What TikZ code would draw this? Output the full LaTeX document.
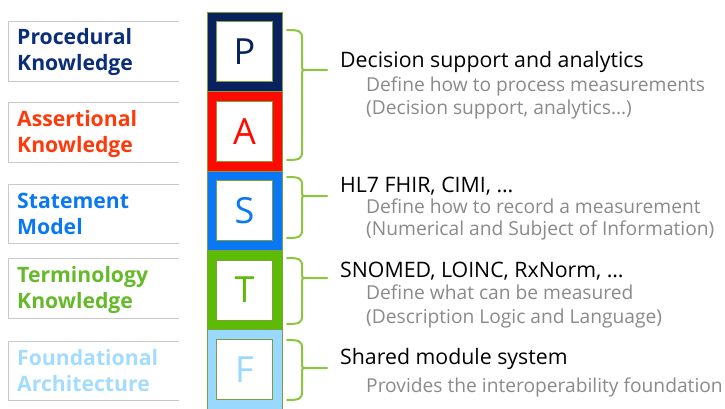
\documentclass[tikz,border=0pt]{standalone}
\usepackage{fontspec}
\setmainfont{Open Sans}
\definecolor{pNavy}{HTML}{0A2160}
\definecolor{pNavyTxt}{HTML}{0B2E78}
\definecolor{aRed}{HTML}{FF0A00}
\definecolor{aRedTxt}{HTML}{FF3A0A}
\definecolor{sBlue}{HTML}{0A78F5}
\definecolor{tGreen}{HTML}{5CBB05}
\definecolor{tGreenTxt}{HTML}{66B92A}
\definecolor{fLight}{HTML}{99D8FF}
\definecolor{fLightTxt}{HTML}{A3DCFF}
\definecolor{braceGreen}{HTML}{8CC63F}
\definecolor{edgeOlive}{HTML}{7E9E3C}
\definecolor{boxGray}{HTML}{C9C9C9}
\definecolor{subGray}{HTML}{8A8A8A}
\begin{document}
\begin{tikzpicture}[x=1pt,y=-1pt,
  layer/.style={draw=edgeOlive,line width=0.6pt,minimum width=75pt,minimum height=79.4pt,inner sep=0pt,outer sep=0pt},
  letterbox/.style={draw=edgeOlive,line width=0.7pt,fill=white,minimum width=56pt,minimum height=60pt,inner sep=0pt,font=\fontsize{36}{36}\selectfont},
  lbl/.style={anchor=base west,inner sep=0pt,font=\fontsize{21.2}{24}\selectfont\bfseries},
  head/.style={anchor=base west,inner sep=0pt,font=\fontsize{21.3}{24}\selectfont,text=black},
  sub/.style={anchor=base west,inner sep=0pt,font=\fontsize{19.2}{22}\selectfont,text=subGray},
  brc/.style={draw=braceGreen,line width=2pt,line cap=round,line join=round},
  lblframe/.style={draw=boxGray,line width=0.9pt}]
\useasboundingbox (0,0) rectangle (725,409);

% coloured layer column
\node[layer,fill=pNavy]  (Pblk) at (244.5,51.7)  {};
\node[layer,fill=aRed]   (Ablk) at (244.5,131.1) {};
\node[layer,fill=sBlue]  (Sblk) at (244.5,210.5) {};
\node[layer,fill=tGreen] (Tblk) at (244.5,289.9) {};
\node[layer,fill=fLight] (Fblk) at (244.5,369.3) {};

% letter squares
\node[letterbox,text=pNavy]  (Pbox) at (Pblk) {P};
\node[letterbox,text=aRed]   (Abox) at (Ablk) {A};
\node[letterbox,text=sBlue]  (Sbox) at (Sblk) {S};
\node[letterbox,text=tGreen] (Tbox) at (Tblk) {T};
\node[letterbox,text=fLight] (Fbox) at (Fblk) {F};

% label frames (open on the right)
\foreach \t/\b in {21/81,102/162,184/243,258/318,341/400}{
  \draw[lblframe] (179,\t) -- (8,\t) -- (8,\b) -- (179,\b);
}

% layer names
\node[lbl,text=pNavyTxt]  (pl1) at (17,45)  {Procedural};
\node[lbl,text=pNavyTxt]  (pl2) at (17,71)  {Knowledge};
\node[lbl,text=aRedTxt]   (al1) at (17,127) {Assertional};
\node[lbl,text=aRedTxt]   (al2) at (17,152) {Knowledge};
\node[lbl,text=sBlue]     (sl1) at (17,208) {Statement};
\node[lbl,text=sBlue]     (sl2) at (17,234) {Model};
\node[lbl,text=tGreenTxt] (tl1) at (17,282) {Terminology};
\node[lbl,text=tGreenTxt] (tl2) at (17,308) {Knowledge};
\node[lbl,text=fLightTxt] (fl1) at (17,365) {Foundational};
\node[lbl,text=fLightTxt] (fl2) at (17,391) {Architecture};

% curly braces: top, tip, bottom
\foreach \yt/\ym/\yb in {30/70/160,177/196/238,258/278/324,340/368/400}{
  \draw[brc] (287,\yt) .. controls (299,\yt) and (302,\yt+1) .. (302,\yt+8)
    -- (302,\ym-5) .. controls (302,\ym) .. (307,\ym) -- (327,\ym);
  \draw[brc] (307,\ym) .. controls (302,\ym) .. (302,\ym+5)
    -- (302,\yb-8) .. controls (302,\yb-1) and (299,\yb) .. (287,\yb);
}

% descriptions
\node[head] (ph) at (340,68)  {Decision support and analytics};
\node[sub]  (ps1) at (366,92)  {Define how to process measurements};
\node[sub]  (ps2) at (366,115) {(Decision support, analytics…)};
\node[head] (sh) at (340,192) {HL7 FHIR, CIMI, …};
\node[sub]  (ss1) at (366,213) {Define how to record a measurement};
\node[sub]  (ss2) at (366,235) {(Numerical and Subject of Information)};
\node[head] (th) at (340,277) {SNOMED, LOINC, RxNorm, …};
\node[sub]  (ts1) at (366,299) {Define what can be measured};
\node[sub]  (ts2) at (366,323) {(Description Logic and Language)};
\node[head] (fh) at (340,364) {Shared module system};
\node[sub]  (fs1) at (366,392) {Provides the interoperability foundation};
\end{tikzpicture}
\end{document}
